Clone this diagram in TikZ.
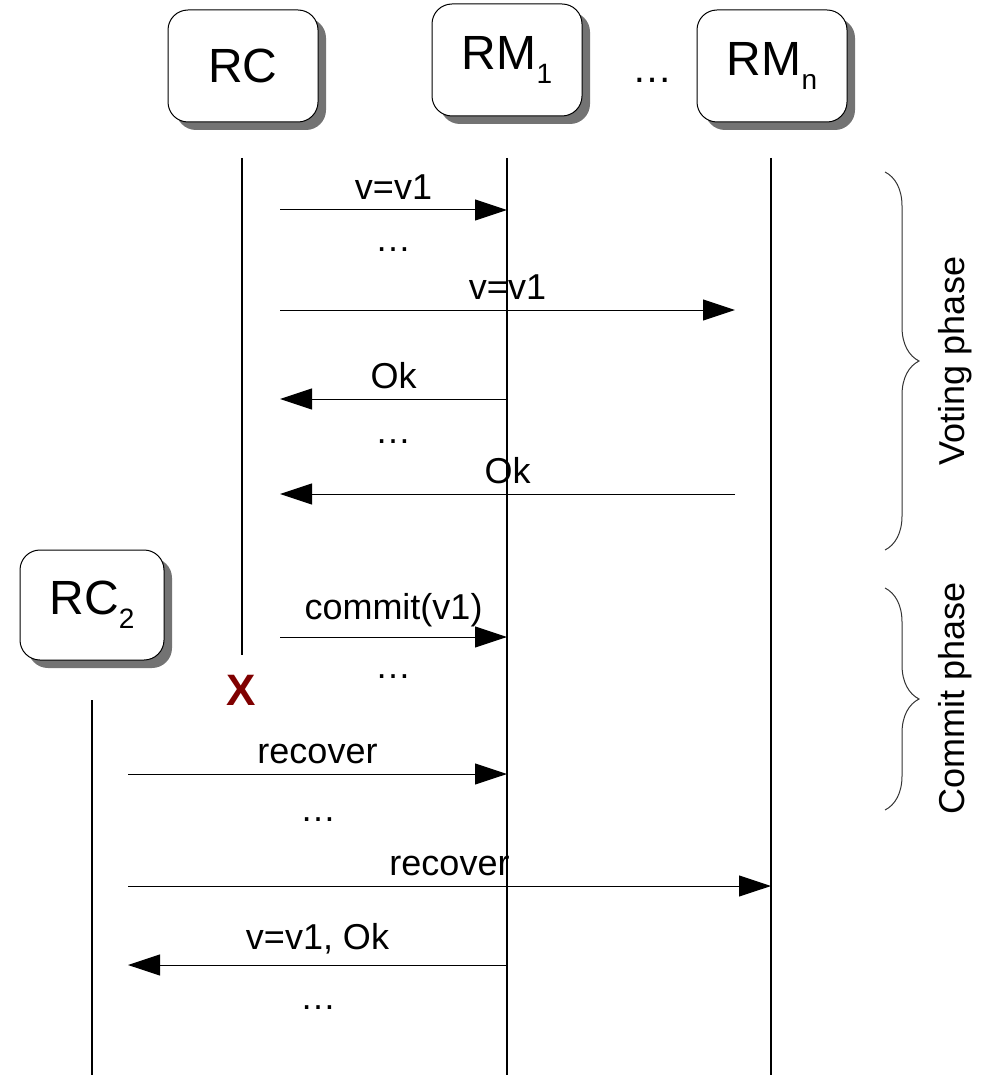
\documentclass[tikz,border=0pt]{standalone}
\usepackage{fontspec}
\setmainfont{Liberation Sans}
\usetikzlibrary{arrows.meta,shadows,decorations.pathreplacing}
\definecolor{xRed}{RGB}{128,0,0}
\newcommand{\lowsub}[1]{\raisebox{-7pt}{\fontsize{14}{16}\selectfont #1}}
\tikzset{
    EMPTY/.style={inner sep=0mm, font={\fontsize{18}{20}\selectfont}},
    BOX/.style={draw=black, fill=white, shape=rectangle, rounded corners=10pt,
        minimum width=75pt, minimum height=56pt, line width=0.5pt,
        font={\fontsize{24}{26}\selectfont},
        drop shadow={shadow xshift=4pt, shadow yshift=-4pt, fill=gray!90!black, opacity=1}},
    LIFELINE/.style={draw=black, line width=1pt},
    MSG/.style={draw=black, line width=0.5pt, -{Triangle[length=16pt, width=10.5pt]}},
    MSG_LABEL/.style={midway, above=5pt, inner sep=0mm, font={\fontsize{18}{20}\selectfont}},
    CROSS/.style={inner sep=0mm, text=xRed, font={\fontsize{22}{24}\selectfont\bfseries}},
    BRACE/.style={draw=black!80, line width=0.5pt,
        decorate, decoration={brace, amplitude=17pt}},
    PHASE/.style={rotate=90, inner sep=0mm, font={\fontsize{18}{20}\selectfont}}
}
\pgfdeclarelayer{edgelayer}
\pgfdeclarelayer{nodelayer}
\pgfsetlayers{edgelayer,nodelayer,main}
\begin{document}
\begin{tikzpicture}[x=0.5pt, y=-0.5pt]
    \useasboundingbox (0,0) rectangle (982,1075);
    \begin{pgfonlayer}{nodelayer}
        \node [BOX] (1) at (243, 66) {RC};
        \node [BOX] (2) at (507, 60) {RM\lowsub{1}};
        \node [BOX] (3) at (772, 66) {RM\lowsub{n}};
        \node [BOX, minimum width=72pt, minimum height=55pt] (4) at (92, 605) {RC\lowsub{2}};
        \node [EMPTY, font={\fontsize{20}{22}\selectfont}] (5) at (652, 80) {\dots};
        \node [EMPTY] (6) at (393, 250) {\dots};
        \node [EMPTY] (7) at (393, 442) {\dots};
        \node [EMPTY] (8) at (393, 677) {\dots};
        \node [EMPTY] (9) at (318, 820) {\dots};
        \node [EMPTY] (10) at (318, 1008) {\dots};
        \node [CROSS] (11) at (241, 690) {X};
        \node [PHASE] (12) at (955, 361) {Voting phase};
        \node [PHASE] (13) at (955, 698) {Commit phase};
    \end{pgfonlayer}
    \coordinate (20) at (242, 158);
    \coordinate (21) at (242, 655);
    \coordinate (22) at (507, 158);
    \coordinate (23) at (507, 1075);
    \coordinate (24) at (771, 158);
    \coordinate (25) at (771, 1075);
    \coordinate (26) at (92, 700);
    \coordinate (27) at (92, 1075);
    \coordinate (30) at (280, 210);
    \coordinate (31) at (507, 210);
    \coordinate (32) at (280, 310);
    \coordinate (33) at (735, 310);
    \coordinate (34) at (507, 399);
    \coordinate (35) at (280, 399);
    \coordinate (36) at (735, 494);
    \coordinate (37) at (280, 494);
    \coordinate (38) at (280, 637);
    \coordinate (39) at (507, 637);
    \coordinate (40) at (128, 774);
    \coordinate (41) at (507, 774);
    \coordinate (42) at (128, 886);
    \coordinate (43) at (771, 886);
    \coordinate (44) at (507, 965);
    \coordinate (45) at (128, 965);
    \coordinate (50) at (885, 172);
    \coordinate (51) at (885, 550);
    \coordinate (52) at (885, 588);
    \coordinate (53) at (885, 810);
    \begin{pgfonlayer}{edgelayer}
        \draw[LIFELINE] (20) to (21);
        \draw[LIFELINE] (22) to (23);
        \draw[LIFELINE] (24) to (25);
        \draw[LIFELINE] (26) to (27);
        \draw[MSG] (30) to node[MSG_LABEL] {v=v1} (31);
        \draw[MSG] (32) to node[MSG_LABEL] {v=v1} (33);
        \draw[MSG] (34) to node[MSG_LABEL] {Ok} (35);
        \draw[MSG] (36) to node[MSG_LABEL] {Ok} (37);
        \draw[MSG] (38) to node[MSG_LABEL] {commit(v1)} (39);
        \draw[MSG] (40) to node[MSG_LABEL] {recover} (41);
        \draw[MSG] (42) to node[MSG_LABEL] {recover} (43);
        \draw[MSG] (44) to node[MSG_LABEL] {v=v1, Ok} (45);
        \draw[BRACE] (50) to (51);
        \draw[BRACE] (52) to (53);
    \end{pgfonlayer}
\end{tikzpicture}
\end{document}
